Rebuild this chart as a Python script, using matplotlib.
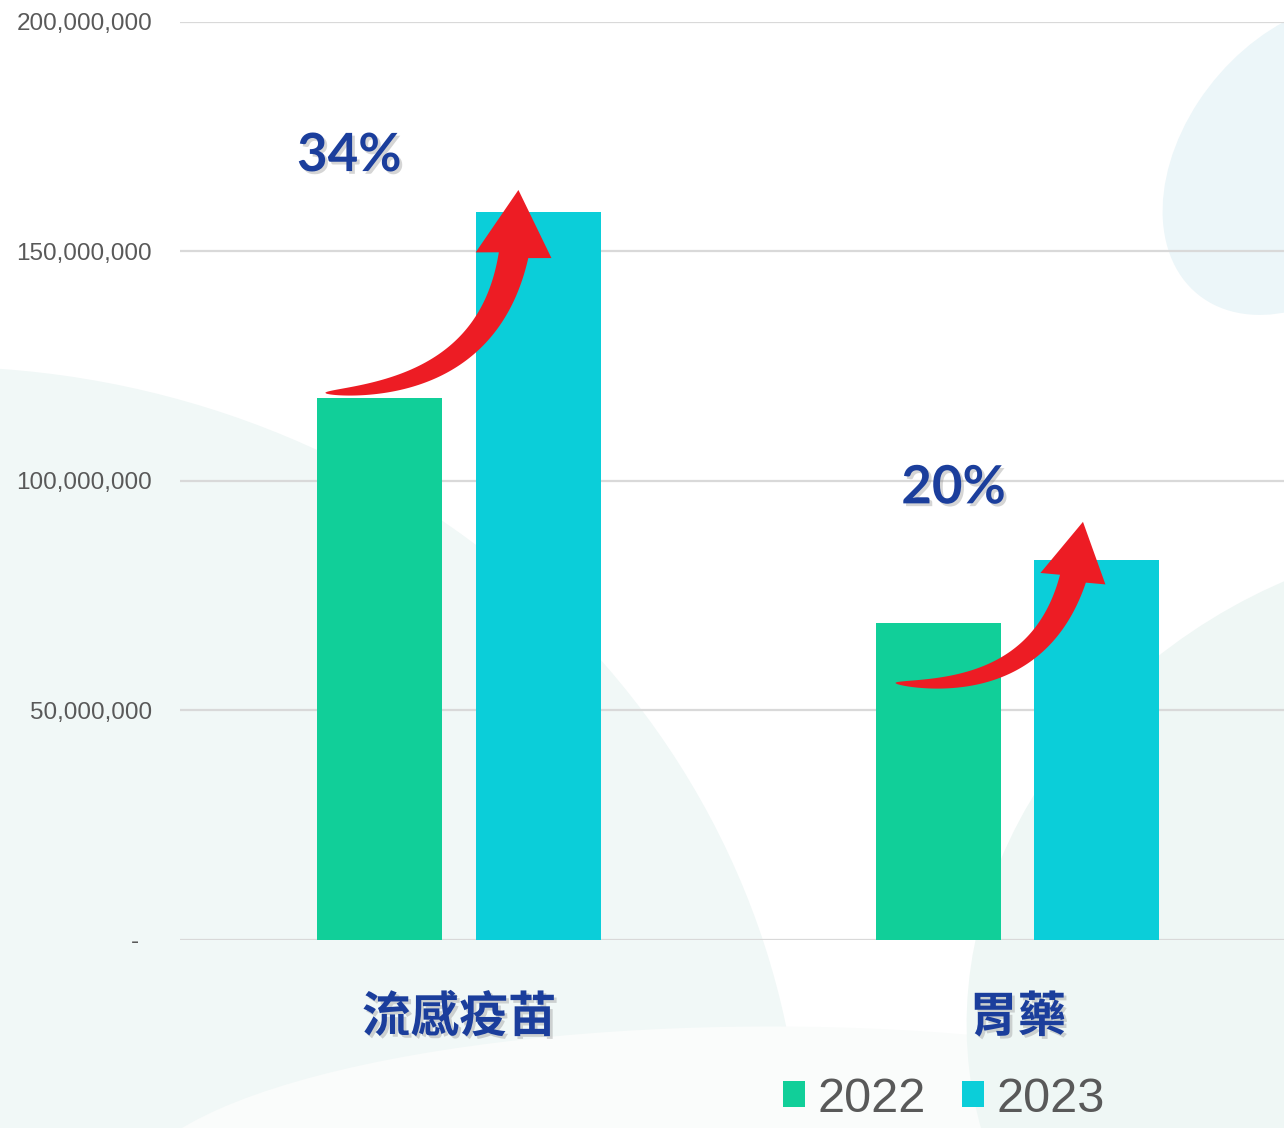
import numpy as np
import matplotlib.pyplot as plt
import matplotlib.patheffects as pe
from matplotlib.patches import Ellipse, Polygon
from matplotlib.ticker import FuncFormatter
from matplotlib.transforms import IdentityTransform

categories = ["流感疫苗", "胃藥"]
years = ["2022", "2023"]
sales_2022 = [118_000_000, 69_000_000]
sales_2023 = [158_500_000, 82_800_000]
y_ticks = [0, 50_000_000, 100_000_000, 150_000_000, 200_000_000]

# placement of the growth labels / arrows relative to each group
label_dx = [-0.197, -0.115]
label_dy = [12_400_000, 15_700_000]
arrow_start = [(-0.24, 1_200_000), (-0.219, -13_000_000)]
arrow_end = [(0.106, 4_900_000), (0.117, 8_300_000)]
arrow_size = [(30, 76, 66), (27, 66, 58)]  # tail width, head width, head length (px)

green = "#11cf99"
cyan = "#0bced9"
navy = "#1b3e9c"
grey = "#595959"
red = "#ed1c24"
cjk = ["Noto Sans CJK TC", "DejaVu Sans"]


def curved_arrow(ax, p0, p2, rad, tail_w, head_w, head_l, color):
    # tapered curved arrow: pointed tail, wide near the head
    P0 = ax.transData.transform(p0)
    P2 = ax.transData.transform(p2)
    d = P2 - P0
    C = (P0 + P2) / 2 + rad * np.array([d[1], -d[0]])
    t = np.linspace(0, 1, 300)[:, None]
    B = (1 - t) ** 2 * P0 + 2 * (1 - t) * t * C + t ** 2 * P2
    s = np.concatenate([[0], np.cumsum(np.hypot(*np.diff(B, axis=0).T))])
    k = np.searchsorted(s, s[-1] - head_l)
    tail = B[:k + 1]
    tg = np.gradient(tail, axis=0)
    tg /= np.hypot(tg[:, 0], tg[:, 1])[:, None]
    nrm = np.column_stack([-tg[:, 1], tg[:, 0]])
    wdt = tail_w / 2 * (s[:k + 1] / s[k]) ** 0.55
    left = tail + nrm * wdt[:, None]
    right = tail - nrm * wdt[:, None]
    base = B[k]
    hd = (P2 - base) / np.hypot(*(P2 - base))
    hn = np.array([-hd[1], hd[0]])
    poly = np.vstack([left, base + hn * head_w / 2, P2, base - hn * head_w / 2, right[::-1]])
    ax.add_patch(Polygon(poly, closed=True, transform=IdentityTransform(),
                         facecolor=color, edgecolor="none", zorder=6))


fig = plt.figure(figsize=(12.84, 11.28), dpi=100)
fig.patch.set_facecolor("white")

# soft background decoration
bg = fig.add_axes([0, 0, 1, 1], zorder=0)
bg.set_xlim(0, 1)
bg.set_ylim(0, 1)
bg.axis("off")
bg.add_patch(Ellipse((-0.05, -0.05), 1.35, 1.45, color="#f1f8f7", lw=0))
bg.add_patch(Ellipse((0.6, -0.06), 1.0, 0.3, color="#fafcfb", lw=0))
bg.add_patch(Ellipse((1.12, 0.14), 0.7, 0.8, angle=-35, color="#eff7f5", lw=0))
bg.add_patch(Ellipse((1.02, 0.86), 0.2, 0.3, angle=-30, color="#ecf6f9", lw=0))

ax = fig.add_axes([0.1402, 0.1667, 0.8598, 0.8138], zorder=1)
ax.set_facecolor("none")

x = np.arange(len(categories))
w = 0.224
off = 0.142
ax.bar(x - off, sales_2022, w, color=green, label=years[0], zorder=3)
ax.bar(x + off, sales_2023, w, color=cyan, label=years[1], zorder=3)

ax.set_xlim(-0.5, 1.477)
ax.set_ylim(0, 200_000_000)
ax.set_yticks(y_ticks)
ax.yaxis.set_major_formatter(FuncFormatter(lambda v, p: "-  " if v == 0 else f"{v:,.0f}"))
ax.yaxis.grid(True, color="#d9d9d9", linewidth=1.6, zorder=0)
ax.set_axisbelow(True)
for s in ax.spines.values():
    s.set_visible(False)
ax.tick_params(axis="y", length=0, pad=20, labelsize=17.5, labelcolor=grey)
for t in ax.get_yticklabels():
    t.set_family("Liberation Sans")

shadow = [pe.withSimplePatchShadow(offset=(2, -2), shadow_rgbFace="#888888", alpha=0.35)]

ax.set_xticks(x)
ax.set_xticklabels(categories, family=cjk, fontsize=35, fontweight=900, color=navy)
ax.tick_params(axis="x", length=0, pad=38)
for t in ax.get_xticklabels():
    t.set_path_effects(shadow)

for i in range(len(categories)):
    pct = round((sales_2023[i] / sales_2022[i] - 1) * 100)
    ax.text(i + label_dx[i], sales_2023[i] + label_dy[i], f"{pct}%",
            ha="center", va="center", fontsize=38, fontweight="bold",
            family="Lato", color=navy, path_effects=shadow, zorder=5)
    sx, sy = arrow_start[i]
    ex, ey = arrow_end[i]
    tw, hw, hl = arrow_size[i]
    curved_arrow(ax, (i + sx, sales_2022[i] + sy), (i + ex, sales_2023[i] + ey),
                 0.5, tw, hw, hl, red)

fig.legend(loc="center", bbox_to_anchor=(944 / 1284, 1 - 1099 / 1128), ncol=2,
           frameon=False, prop={"family": "Liberation Sans", "size": 35},
           labelcolor=grey, handlelength=0.45, handleheight=0.45,
           handletextpad=0.25, columnspacing=0.75, borderpad=0.1)

fig.savefig("out.png", dpi=100)
